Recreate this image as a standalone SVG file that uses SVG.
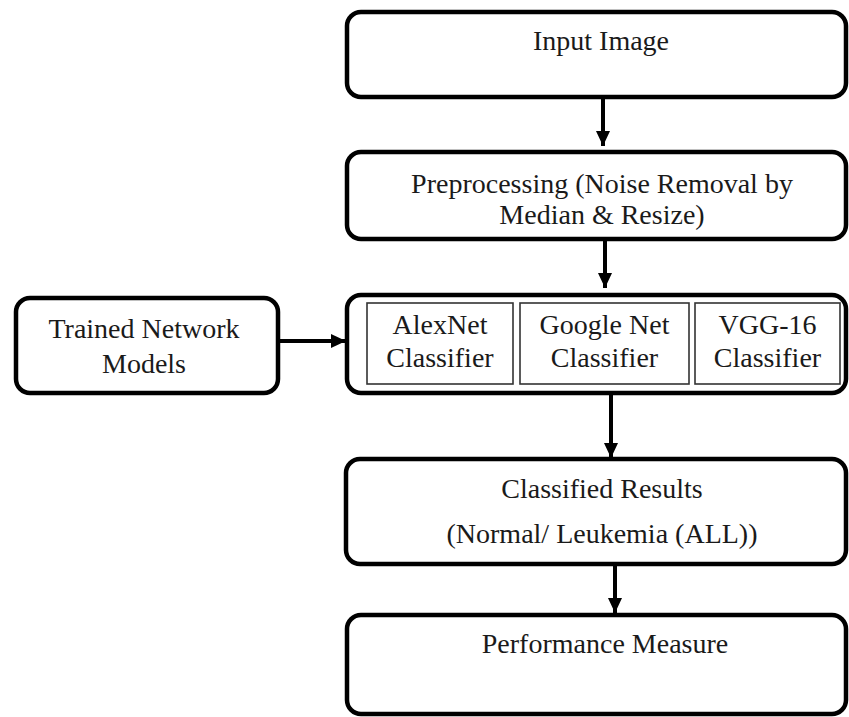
<svg xmlns="http://www.w3.org/2000/svg" width="849" height="717" viewBox="0 0 849 717">
  <style>
    .box { fill: #ffffff; stroke: #000000; stroke-width: 4.5; }
    .inner { fill: #ffffff; stroke: #333333; stroke-width: 1.6; }
    .lbl { font-size: 28px; fill: #1a1a1a; text-anchor: middle; }
    .conn { stroke: #000000; stroke-width: 4; fill: none; }
  </style>
  <defs>
    <marker id="head" markerUnits="userSpaceOnUse" markerWidth="18" markerHeight="18" refX="15" refY="9" orient="auto">
      <path d="M0,2 L15,9 L0,16 Z" fill="#000000"/>
    </marker>
  </defs>
  <rect width="849" height="717" fill="#ffffff"/>

  <g font-family="Liberation Serif, DejaVu Serif, serif">
    <g id="input-image">
      <rect class="box" x="347" y="12" width="499" height="85" rx="14"/>
      <text class="lbl" x="601" y="50">Input Image</text>
    </g>

    <g id="preprocessing">
      <rect class="box" x="347" y="152" width="499" height="87" rx="14"/>
      <text class="lbl" x="602" y="193">Preprocessing (Noise Removal by</text>
      <text class="lbl" x="602" y="224">Median &amp; Resize)</text>
    </g>

    <g id="trained-models">
      <rect class="box" x="16" y="298" width="262" height="95" rx="14"/>
      <text class="lbl" x="144" y="338">Trained Network</text>
      <text class="lbl" x="144" y="373">Models</text>
    </g>

    <g id="classifiers">
      <rect class="box" x="347" y="295" width="499" height="98" rx="14"/>
      <g id="alexnet">
        <rect class="inner" x="367" y="303" width="146" height="81"/>
        <text class="lbl" x="440" y="334">AlexNet</text>
        <text class="lbl" x="440" y="367">Classifier</text>
      </g>
      <g id="googlenet">
        <rect class="inner" x="520" y="303" width="169" height="81"/>
        <text class="lbl" x="604.5" y="334">Google Net</text>
        <text class="lbl" x="604.5" y="367">Classifier</text>
      </g>
      <g id="vgg16">
        <rect class="inner" x="695" y="303" width="145" height="81"/>
        <text class="lbl" x="767.5" y="334">VGG-16</text>
        <text class="lbl" x="767.5" y="367">Classifier</text>
      </g>
    </g>

    <g id="classified-results">
      <rect class="box" x="346" y="459" width="500" height="105" rx="14"/>
      <text class="lbl" x="602" y="498">Classified Results</text>
      <text class="lbl" x="602" y="543">(Normal/ Leukemia (ALL))</text>
    </g>

    <g id="performance">
      <rect class="box" x="347" y="615" width="499" height="99" rx="14"/>
      <text class="lbl" x="605" y="653">Performance Measure</text>
    </g>
  </g>

  <g id="connectors">
    <line class="conn" x1="603" y1="99" x2="603" y2="146" marker-end="url(#head)"/>
    <line class="conn" x1="605" y1="241" x2="605" y2="288" marker-end="url(#head)"/>
    <line class="conn" x1="280" y1="341" x2="346" y2="341" marker-end="url(#head)"/>
    <line class="conn" x1="611" y1="395" x2="611" y2="458" marker-end="url(#head)"/>
    <line class="conn" x1="615" y1="566" x2="615" y2="613" marker-end="url(#head)"/>
  </g>
</svg>
